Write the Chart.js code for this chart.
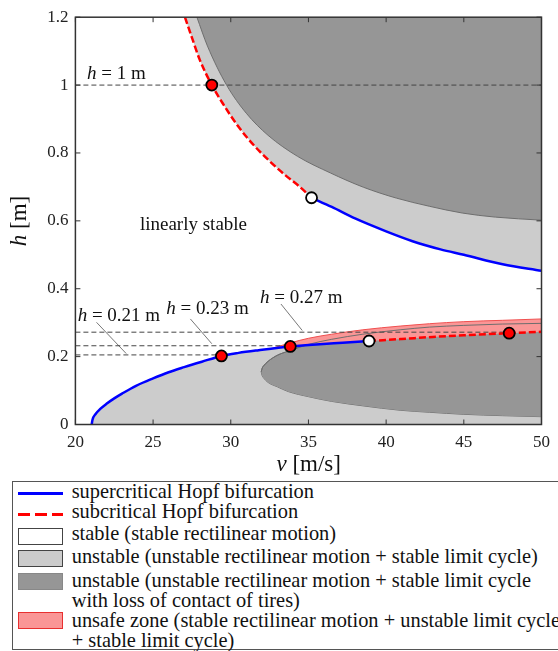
<!DOCTYPE html>
<html>
<head>
<meta charset="utf-8">
<script src="https://cdn.jsdelivr.net/npm/chart.js@4.4.0/dist/chart.umd.min.js"></script>
<style>
  body { margin: 0; background: #fff; width: 558px; height: 651px; overflow: hidden; position: relative; font-family: "Liberation Serif", "DejaVu Serif", serif; }
  #wrap { position: absolute; left: 0; top: 0; width: 558px; height: 480px; }
  #legend { position: absolute; left: 12px; top: 481px; width: 580px; height: 169px; border: 1px solid #555; box-sizing: border-box; }
  .tx { position: absolute; left: 58.7px; font-size: 20.4px; line-height: 20px; color: #111; white-space: nowrap; }
  .ln { position: absolute; left: 5.3px; width: 45px; height: 3px; }
  .dash { background: repeating-linear-gradient(90deg, #ff0000 0 12px, transparent 12px 17px); }
  .bx { position: absolute; left: 5.3px; width: 45px; height: 17px; border: 1px solid #444; box-sizing: border-box; }
</style>
</head>
<body>
<div id="wrap"><canvas id="c" width="558" height="480"></canvas></div>
<div id="legend">
  <div class="ln" style="top:9.8px;background:#0000ff"></div>
  <div class="tx" style="top:-1.5px">supercritical Hopf bifurcation</div>
  <div class="ln dash" style="top:30.5px"></div>
  <div class="tx" style="top:19.1px">subcritical Hopf bifurcation</div>
  <div class="bx" style="top:46.3px;background:#fff"></div>
  <div class="tx" style="top:40.8px">stable (stable rectilinear motion)</div>
  <div class="bx" style="top:68px;background:#cccccc"></div>
  <div class="tx" style="top:64.1px">unstable (unstable rectilinear motion + stable limit cycle)</div>
  <div class="bx" style="top:91.3px;background:#969696;border-color:#888"></div>
  <div class="tx" style="top:87.5px">unstable (unstable rectilinear motion + stable limit cycle<br>with loss of contact of tires)</div>
  <div class="bx" style="top:129.7px;background:#fa9696;border-color:#e83030"></div>
  <div class="tx" style="top:127.5px">unsafe zone (stable rectilinear motion + unstable limit cycle<br>+ stable limit cycle)</div>
</div>
<script>
// upper Hopf branch (subcritical part, then supercritical part)
const upperSubV = [27.05, 27.5, 28.0, 28.78, 29.5, 30.5, 31.5, 32.5, 33.5, 34.4, 35.2];
const upperSubH = [1.2, 1.14, 1.075, 1.0, 0.945, 0.877, 0.822, 0.776, 0.735, 0.702, 0.668];
const upperSupV = [35.2, 36.5, 38.0, 40.0, 41.7, 43.5, 45.0, 47.5, 50.0];
const upperSupH = [0.668, 0.641, 0.607, 0.569, 0.54, 0.516, 0.50, 0.472, 0.453];

// upper region with loss of tyre contact
const darkUpperV = [27.82, 28.5, 29.73, 31.0, 32.4, 34.3, 36.42, 38.54, 40.66, 42.78, 44.9, 47.03, 50.0];
const darkUpperH = [1.2, 1.115, 1.0, 0.917, 0.852, 0.79, 0.741, 0.699, 0.667, 0.643, 0.623, 0.611, 0.602];

// lower Hopf branch
const lowerSupV = [21.05, 21.1, 21.3, 21.6, 22.0, 22.5, 23.0, 23.9, 25.0, 26.0, 27.0, 28.14, 29.4, 30.5, 31.8, 33.83, 35.5, 37.2, 38.9];
const lowerSupH = [0, 0.014, 0.031, 0.046, 0.061, 0.077, 0.091, 0.114, 0.136, 0.154, 0.169, 0.185, 0.202, 0.211, 0.219, 0.23, 0.236, 0.241, 0.246];
const lowerSubV = [38.9, 41.0, 43.0, 45.0, 47.92, 50.0];
const lowerSubH = [0.246, 0.252, 0.258, 0.263, 0.269, 0.273];

// lower region with loss of tyre contact
const darkLowV = [31.96, 32.02, 32.1, 32.4, 33.0, 33.7, 35.0, 36.5, 38.5, 40.9, 42.8, 45.0, 47.5, 50.0];
const darkLowTopH = [0.155, 0.166, 0.172, 0.186, 0.204, 0.216, 0.236, 0.251, 0.266, 0.279, 0.287, 0.292, 0.296, 0.298];
const darkLowBotH = [0.155, 0.144, 0.138, 0.124, 0.111, 0.097, 0.082, 0.068, 0.055, 0.042, 0.036, 0.03, 0.026, 0.023];

// unsafe zone upper edge
const unsafeV = [32.5, 33.8, 35.0, 36.5, 38.5, 40.9, 42.8, 45.0, 47.5, 50.0];
const unsafeH = [0.222, 0.24, 0.254, 0.266, 0.279, 0.29, 0.297, 0.303, 0.307, 0.311];

// reference heights and marked points
const refH = [1.0, 0.272, 0.232, 0.205];
const refEndV = [50, 47.92, 33.83, 29.4];
const redDotV = [28.78, 29.4, 33.83, 47.92];
const redDotH = [1.0, 0.202, 0.23, 0.269];
const whiteDotV = [35.2, 38.9];
const whiteDotH = [0.668, 0.246];

const xTicks = [20, 25, 30, 35, 40, 45, 50];
const yTicks = [0, 0.2, 0.4, 0.6, 0.8, 1.0, 1.2];

const xy = (vs, hs) => vs.map((v, i) => ({ x: v, y: hs[i] }));

const LIGHT = '#cccccc';
const DARK = '#969696';
const EDGE = '#6e6e6e';
const PINK = '#fa9696';
const FONT = "'Liberation Serif', 'DejaVu Serif', serif";

const curve = { showLine: true, pointRadius: 0, cubicInterpolationMode: 'monotone' };

const datasets = [
  { ...curve, data: xy(upperSubV.concat(upperSupV.slice(1)), upperSubH.concat(upperSupH.slice(1))), fill: 'end', backgroundColor: LIGHT, borderWidth: 0, borderColor: 'transparent', order: 20 },
  { ...curve, data: xy(darkUpperV, darkUpperH), fill: 'end', backgroundColor: DARK, borderColor: EDGE, borderWidth: 1, order: 19 },
  { ...curve, data: xy(lowerSupV.concat(lowerSubV.slice(1)), lowerSupH.concat(lowerSubH.slice(1))), fill: 'start', backgroundColor: LIGHT, borderWidth: 0, borderColor: 'transparent', order: 18 },
  { ...curve, data: xy(darkLowV, darkLowBotH), fill: false, borderColor: EDGE, borderWidth: 1, order: 17 },
  { ...curve, data: xy(darkLowV, darkLowTopH), fill: { target: 3 }, backgroundColor: DARK, borderColor: EDGE, borderWidth: 1, order: 16 },
  { ...curve, data: xy(unsafeV, unsafeH), fill: { target: 2 }, backgroundColor: PINK, borderColor: '#f05050', borderWidth: 1, order: 15 },
  { ...curve, data: xy(darkLowV, darkLowTopH), fill: false, borderColor: EDGE, borderWidth: 1, order: 14 }
];

// dashed reference lines
refH.forEach((h, i) => {
  datasets.push({ showLine: true, pointRadius: 0, data: xy([20, refEndV[i]], [h, h]), borderColor: '#444', borderWidth: 1, borderDash: [5, 3], fill: false, order: 10 });
});

// leader lines for the h labels
[[[21.36, 23.27], [0.301, 0.209]], [[27.4, 28.78], [0.311, 0.238]], [[33.23, 34.6], [0.355, 0.277]]].forEach(([vs, hs]) => {
  datasets.push({ showLine: true, pointRadius: 0, data: xy(vs, hs), borderColor: '#555', borderWidth: 0.8, fill: false, order: 10 });
});

datasets.push(
  { ...curve, data: xy(upperSubV, upperSubH), borderColor: '#ff0000', borderWidth: 2.5, borderDash: [7, 3], fill: false, order: 5 },
  { ...curve, data: xy(upperSupV, upperSupH), borderColor: '#0000ff', borderWidth: 2.5, fill: false, order: 5 },
  { ...curve, data: xy(lowerSupV, lowerSupH), borderColor: '#0000ff', borderWidth: 2.5, fill: false, order: 5 },
  { ...curve, data: xy(lowerSubV, lowerSubH), borderColor: '#ff0000', borderWidth: 2.5, borderDash: [7, 3], fill: false, order: 5 },
  { showLine: false, data: xy(redDotV, redDotH), pointRadius: 5.5, pointBackgroundColor: '#ff0000', pointBorderColor: '#000', pointBorderWidth: 1.8, order: 1 },
  { showLine: false, data: xy(whiteDotV, whiteDotH), pointRadius: 5.5, pointBackgroundColor: '#ffffff', pointBorderColor: '#000', pointBorderWidth: 1.8, order: 1 }
);

function mathText(ctx, parts, cx, cy, size) {
  let total = 0;
  const widths = parts.map(([t, it]) => {
    ctx.font = (it ? 'italic ' : '') + size + 'px ' + FONT;
    const w = ctx.measureText(t).width;
    total += w;
    return w;
  });
  let x = cx - total / 2;
  ctx.textAlign = 'left';
  ctx.textBaseline = 'middle';
  parts.forEach(([t, it], i) => {
    ctx.font = (it ? 'italic ' : '') + size + 'px ' + FONT;
    ctx.fillText(t, x, cy);
    x += widths[i];
  });
}

const frame = {
  id: 'frame',
  afterDatasetsDraw(chart) {
    const { ctx, chartArea: a, scales: { x, y } } = chart;
    ctx.save();
    ctx.strokeStyle = '#333';
    ctx.lineWidth = 1;
    ctx.beginPath();
    xTicks.forEach(t => {
      const px = x.getPixelForValue(t);
      ctx.moveTo(px, a.bottom); ctx.lineTo(px, a.bottom - 5);
      ctx.moveTo(px, a.top); ctx.lineTo(px, a.top + 5);
    });
    yTicks.forEach(t => {
      const py = y.getPixelForValue(t);
      ctx.moveTo(a.left, py); ctx.lineTo(a.left + 5, py);
      ctx.moveTo(a.right, py); ctx.lineTo(a.right - 5, py);
    });
    ctx.stroke();
    ctx.lineWidth = 1.5;
    ctx.strokeRect(a.left, a.top, a.right - a.left, a.bottom - a.top);

    ctx.fillStyle = '#111';
    const px = v => x.getPixelForValue(v);
    const py = h => y.getPixelForValue(h);
    mathText(ctx, [['h', true], [' = 1 m', false]], px(22.64), py(1.0315), 19);
    mathText(ctx, [['linearly stable', false]], px(27.6), py(0.587), 19);
    mathText(ctx, [['h', true], [' = 0.21 m', false]], px(22.8), py(0.321), 19);
    mathText(ctx, [['h', true], [' = 0.23 m', false]], px(28.5), py(0.34), 19);
    mathText(ctx, [['h', true], [' = 0.27 m', false]], px(34.54), py(0.3735), 19);

    // axis titles
    mathText(ctx, [['v', true], [' [m/s]', false]], 308.7, 464.5, 23);
    ctx.translate(20, 221);
    ctx.rotate(-Math.PI / 2);
    mathText(ctx, [['h', true], [' [m]', false]], 0, 0, 23);
    ctx.restore();
  }
};

const tickFont = { family: FONT, size: 17 };

new Chart(document.getElementById('c'), {
  type: 'line',
  data: { datasets },
  options: {
    responsive: false,
    animation: false,
    layout: { padding: { top: 15, right: 11.3, left: 0, bottom: 0 } },
    plugins: { legend: { display: false }, tooltip: { enabled: false } },
    elements: { line: { tension: 0 } },
    scales: {
      x: {
        type: 'linear', min: 20, max: 50,
        grid: { display: false, drawTicks: false },
        border: { display: false },
        ticks: { stepSize: 5, padding: 8, color: '#222', font: tickFont, maxRotation: 0 },
        afterFit: s => { s.height = 55.5; }
      },
      y: {
        type: 'linear', min: 0, max: 1.2,
        grid: { display: false, drawTicks: false },
        border: { display: false },
        ticks: { stepSize: 0.2, padding: 7, color: '#222', font: tickFont, callback: v => String(Number(v.toFixed(2))) },
        afterFit: s => { s.width = 75.4; }
      }
    }
  },
  plugins: [frame]
});
</script>
</body>
</html>
